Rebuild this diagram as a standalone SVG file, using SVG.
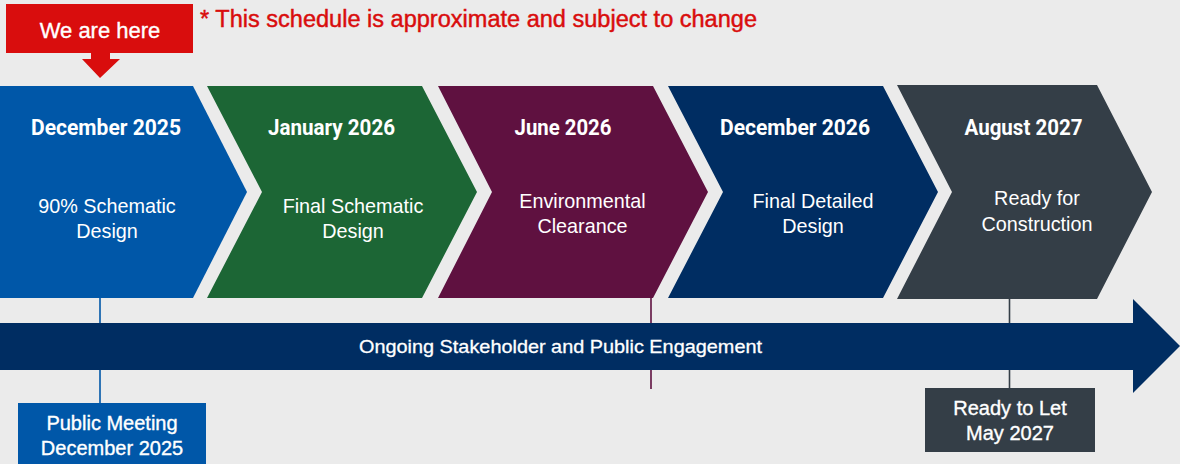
<svg xmlns="http://www.w3.org/2000/svg" width="1180" height="464" viewBox="0 0 1180 464">
<style>
.date{font-family:Roboto,"Liberation Sans",sans-serif;font-weight:bold;font-size:21.5px;fill:#fff;text-anchor:middle}
.sub{font-family:"Liberation Sans",Arial,sans-serif;font-size:19.8px;fill:#fff;text-anchor:middle}
.lbl{font-family:"Liberation Sans",Arial,sans-serif;font-size:20px;fill:#fff;stroke:#fff;stroke-width:0.35;text-anchor:middle}
.conn{fill:none;stroke-width:1.6}
</style>
<rect width="1180" height="464" fill="#EBEBEB"/>
<g id="connectors">
<line class="conn" x1="100" y1="298" x2="100" y2="403" stroke="#0057A8"/>
<line class="conn" x1="651" y1="298" x2="651" y2="389" stroke="#5F1140"/>
<line class="conn" x1="1009.5" y1="298" x2="1009.5" y2="388" stroke="#343E47"/>
</g>
<g id="callout">
<path d="M6,4 H193 V53 H110 V59 H120 L100,78 L82,59 H91 V53 H6 Z" fill="#D90D0D"/>
<text x="100" y="37.5" font-family="Liberation Sans,Arial,sans-serif" font-size="22" fill="#fff" stroke="#fff" stroke-width="0.35" text-anchor="middle">We are here</text>
</g>
<g id="note">
<text x="200" y="27" font-family="Liberation Sans,Arial,sans-serif" font-size="23" fill="#D90D0D" stroke="#D90D0D" stroke-width="0.45" textLength="557" lengthAdjust="spacingAndGlyphs">* This schedule is approximate and subject to change</text>
</g>
<g id="step1">
<path d="M0,86 H193 L247,192 L193,298 H0 Z" fill="#0057A8"/>
<text class="date" x="106" y="134.5" textLength="150" lengthAdjust="spacingAndGlyphs">December 2025</text>
<text class="sub" x="107" y="213">90% Schematic</text>
<text class="sub" x="107" y="238">Design</text>
</g>
<g id="step2">
<path d="M207,86 H422 L477,192 L422,298 H207 L262,192 Z" fill="#1C6635"/>
<text class="date" x="331.5" y="134.5" textLength="127" lengthAdjust="spacingAndGlyphs">January 2026</text>
<text class="sub" x="353" y="213">Final Schematic</text>
<text class="sub" x="353" y="238">Design</text>
</g>
<g id="step3">
<path d="M438,86 H653 L708,192 L653,298 H438 L492,192 Z" fill="#5F1140"/>
<text class="date" x="563" y="134.5" textLength="97" lengthAdjust="spacingAndGlyphs">June 2026</text>
<text class="sub" x="582.5" y="208">Environmental</text>
<text class="sub" x="582.5" y="233">Clearance</text>
</g>
<g id="step4">
<path d="M668,86 H883 L938,192 L883,298 H668 L723,192 Z" fill="#002D62"/>
<text class="date" x="795" y="134.5" textLength="150" lengthAdjust="spacingAndGlyphs">December 2026</text>
<text class="sub" x="813" y="208">Final Detailed</text>
<text class="sub" x="813" y="233">Design</text>
</g>
<g id="step5">
<path d="M897,85 H1097 L1152,192 L1097,299 H897 L952,192 Z" fill="#343E47"/>
<text class="date" x="1023.5" y="134.5" textLength="118" lengthAdjust="spacingAndGlyphs">August 2027</text>
<text class="sub" x="1037" y="205">Ready for</text>
<text class="sub" x="1037" y="231">Construction</text>
</g>
<g id="engagement">
<path d="M0,323 H1133 V299 L1180,346 L1133,393 V370 H0 Z" fill="#002D62"/>
<text x="560.5" y="352.5" font-family="Liberation Sans,Arial,sans-serif" font-size="18.5" fill="#fff" stroke="#fff" stroke-width="0.3" text-anchor="middle" textLength="403" lengthAdjust="spacingAndGlyphs">Ongoing Stakeholder and Public Engagement</text>
</g>
<g id="public-meeting">
<rect x="18" y="403" width="188" height="61" fill="#0057A8"/>
<text class="lbl" x="112" y="430">Public Meeting</text>
<text class="lbl" x="112" y="455">December 2025</text>
</g>
<g id="ready-to-let">
<rect x="925" y="388" width="170" height="64" fill="#343E47"/>
<text class="lbl" x="1010" y="415">Ready to Let</text>
<text class="lbl" x="1010" y="439.5">May 2027</text>
</g>
</svg>
